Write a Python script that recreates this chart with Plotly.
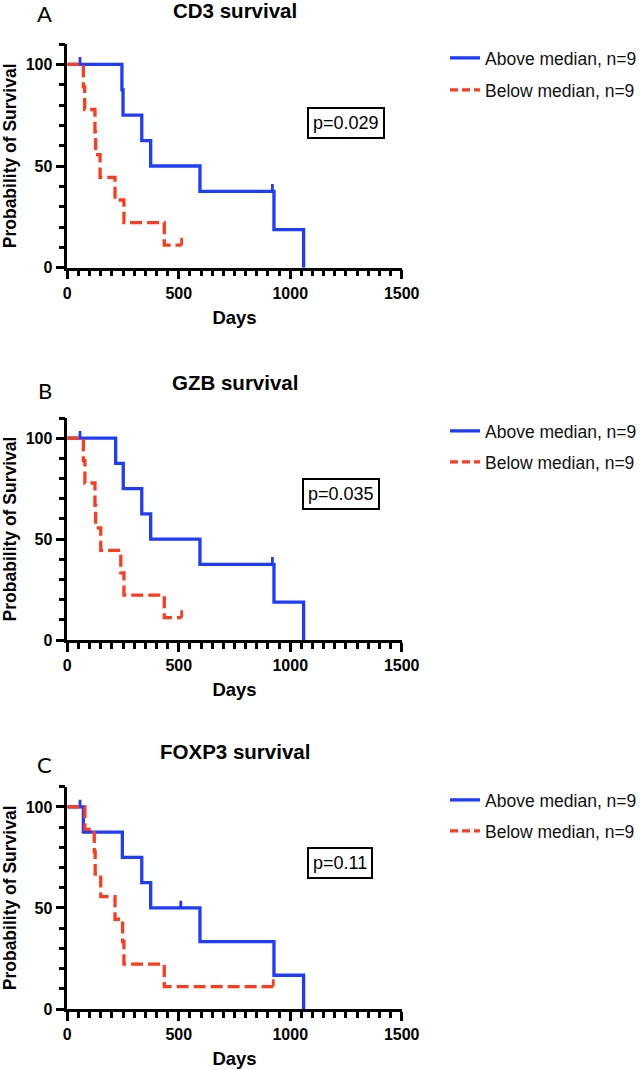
import plotly.graph_objects as go

# ---------------- data ----------------
panel_letters = ["A", "B", "C"]
panel_titles = ["CD3 survival", "GZB survival", "FOXP3 survival"]
p_values = ["p=0.029", "p=0.035", "p=0.11"]
series_names = ["Above median, n=9", "Below median, n=9"]

x_ticks = [0, 500, 1000, 1500]
y_ticks = [0, 50, 100]

# Panel A (CD3)
a_above_days = [0, 245, 250, 334, 374, 595, 927, 1060]
a_above_surv = [100, 87.5, 75, 62.5, 50, 37.5, 18.75, 0]
a_above_cens_days = [57, 920]
a_above_cens_surv = [100, 37.5]
a_below_days = [0, 72, 78, 124, 127, 147, 214, 254, 435, 513]
a_below_surv = [100, 88.9, 77.8, 66.7, 55.6, 44.4, 33.3, 22.2, 11.1, 11.1]
a_below_cens_days = [513]
a_below_cens_surv = [11.1]

# Panel B (GZB)
b_above_days = [0, 217, 251, 334, 374, 595, 927, 1060]
b_above_surv = [100, 87.5, 75, 62.5, 50, 37.5, 18.75, 0]
b_above_cens_days = [57, 920]
b_above_cens_surv = [100, 37.5]
b_below_days = [0, 72, 79, 124, 127, 150, 240, 254, 435, 513]
b_below_surv = [100, 88.9, 77.8, 66.7, 55.6, 44.4, 33.3, 22.2, 11.1, 11.1]
b_below_cens_days = [513]
b_below_cens_surv = [11.1]

# Panel C (FOXP3)
c_above_days = [0, 72, 247, 334, 374, 595, 927, 1060]
c_above_surv = [100, 87.5, 75, 62.5, 50, 33.3, 16.7, 0]
c_above_cens_days = [57, 509]
c_above_cens_surv = [100, 50]
c_below_days = [0, 79, 121, 125, 150, 214, 248, 254, 435, 924]
c_below_surv = [100, 88.9, 77.8, 66.7, 55.6, 44.4, 33.3, 22.2, 11.1, 11.1]
c_below_cens_days = [924]
c_below_cens_surv = [11.1]

panels = [
    (a_above_days, a_above_surv, a_above_cens_days, a_above_cens_surv,
     a_below_days, a_below_surv, a_below_cens_days, a_below_cens_surv),
    (b_above_days, b_above_surv, b_above_cens_days, b_above_cens_surv,
     b_below_days, b_below_surv, b_below_cens_days, b_below_cens_surv),
    (c_above_days, c_above_surv, c_above_cens_days, c_above_cens_surv,
     c_below_days, c_below_surv, c_below_cens_days, c_below_cens_surv),
]

# ---------------- style ----------------
W, H = 644, 1070
BLUE = "#1e3cff"
RED = "#ff3b1e"
FONT = "Liberation Sans, Arial, sans-serif"
LW = 3.3
CENSOR_TICK = 3.6  # tick height in survival units

# pixel layout of the plot areas (x0, x1, ytop, ybottom)
plot_px = [(67.3, 401.7, 44.0, 267.7), (67.3, 401.7, 418.0, 640.0), (67.3, 401.7, 786.7, 1009.0)]
title_y_px = [10, 382, 751]
letter_y_px = [13, 390.5, 764.5]
legend_y_px = [(58, 90), (431, 462), (800, 831)]
pbox_px = [(346.5, 122.5), (340.5, 494.3), (340.0, 863.3)]


def px_x(v):
    return v / W


def px_y(v):
    return 1 - v / H


fig = go.Figure()
annotations = []
layout_axes = {}
legends = {}

legend_counter = 0
for i, (ad, asv, acd, acs, bd, bsv, bcd, bcs) in enumerate(panels):
    k = "" if i == 0 else str(i + 1)
    xref, yref = "x" + k, "y" + k
    x0, x1, yt, yb = plot_px[i]

    specs = [
        (ad, asv, acd, acs, BLUE, "solid", series_names[0]),
        (bd, bsv, bcd, bcs, RED, "12px,5px", series_names[1]),
    ]
    for j, (d, s, cd, cs, col, dash, name) in enumerate(specs):
        fig.add_trace(go.Scatter(
            x=d, y=s, mode="lines", line=dict(color=col, width=LW, dash=dash, shape="hv"),
            xaxis=xref, yaxis=yref, showlegend=False, hoverinfo="skip"))
        # censor ticks
        cx, cy = [], []
        for t, sv in zip(cd, cs):
            cx += [t, t, None]
            cy += [sv, sv + CENSOR_TICK, None]
        fig.add_trace(go.Scatter(
            x=cx, y=cy, mode="lines", line=dict(color=col, width=LW - 0.5),
            xaxis=xref, yaxis=yref, showlegend=False, hoverinfo="skip"))
        # legend entry
        legend_counter += 1
        lk = "legend" if legend_counter == 1 else "legend" + str(legend_counter)
        fig.add_trace(go.Scatter(
            x=[None], y=[None], mode="lines", name=name,
            line=dict(color=col, width=LW, dash="8px,4px" if j == 1 else "solid"),
            xaxis=xref, yaxis=yref, showlegend=True, legend=lk))
        legends[lk] = dict(
            x=px_x(445), y=px_y(legend_y_px[i][j]), xanchor="left", yanchor="middle",
            bgcolor="rgba(0,0,0,0)", borderwidth=0, itemwidth=30,
            font=dict(family=FONT, size=17.5, color="#111111"))

    xa = "xaxis" + k
    ya = "yaxis" + k
    layout_axes[xa] = dict(
        domain=[px_x(x0), px_x(x1)], anchor=yref, range=[0, 1500],
        tickvals=x_ticks, ticks="outside", ticklen=9, tickwidth=2.5, tickcolor="black",
        minor=dict(dtick=50, tick0=0, ticks="outside", ticklen=6, tickwidth=2.5, tickcolor="black"),
        showline=True, linecolor="black", linewidth=2.5, showgrid=False, zeroline=False,
        tickfont=dict(family=FONT, size=16, color="black", weight="bold"),
        title=dict(text="Days", font=dict(family=FONT, size=18.5, color="black", weight="bold"), standoff=11),
        automargin=False, fixedrange=True)
    layout_axes[ya] = dict(
        domain=[px_y(yb), px_y(yt)], anchor=xref, range=[0, 110],
        tickvals=y_ticks, ticks="outside", ticklen=9, tickwidth=2.5, tickcolor="black",
        minor=dict(dtick=10, tick0=0, ticks="outside", ticklen=6, tickwidth=2.5, tickcolor="black"),
        showline=True, linecolor="black", linewidth=2.5, showgrid=False, zeroline=False,
        tickfont=dict(family=FONT, size=16, color="black", weight="bold"),
        title=dict(text="Probability of Survival", font=dict(family=FONT, size=17.5, color="black", weight="bold"), standoff=6),
        automargin=False, fixedrange=True)

    annotations.append(dict(
        text=panel_titles[i], x=px_x((x0 + x1) / 2), y=px_y(title_y_px[i]), xref="paper", yref="paper",
        xanchor="center", yanchor="middle", showarrow=False,
        font=dict(family=FONT, size=20.5, color="black", weight="bold")))
    annotations.append(dict(
        text=panel_letters[i], x=px_x(45), y=px_y(letter_y_px[i]), xref="paper", yref="paper",
        xanchor="center", yanchor="middle", showarrow=False,
        font=dict(family="Lato, Open Sans, sans-serif", size=22, color="black")))
    annotations.append(dict(
        text=p_values[i], x=px_x(pbox_px[i][0]), y=px_y(pbox_px[i][1]), xref="paper", yref="paper",
        xanchor="center", yanchor="middle", showarrow=False,
        bordercolor="black", borderwidth=2, borderpad=4, bgcolor="white",
        font=dict(family=FONT, size=18, color="black")))

fig.update_layout(
    width=W, height=H, margin=dict(l=0, r=0, t=0, b=0, autoexpand=False),
    plot_bgcolor="white", paper_bgcolor="white",
    annotations=annotations, **layout_axes, **legends)

fig.write_html(
    "out.html",
    config={"displayModeBar": False, "responsive": False},
    post_script="document.body.style.margin='0';document.body.style.overflow='hidden';",
)
